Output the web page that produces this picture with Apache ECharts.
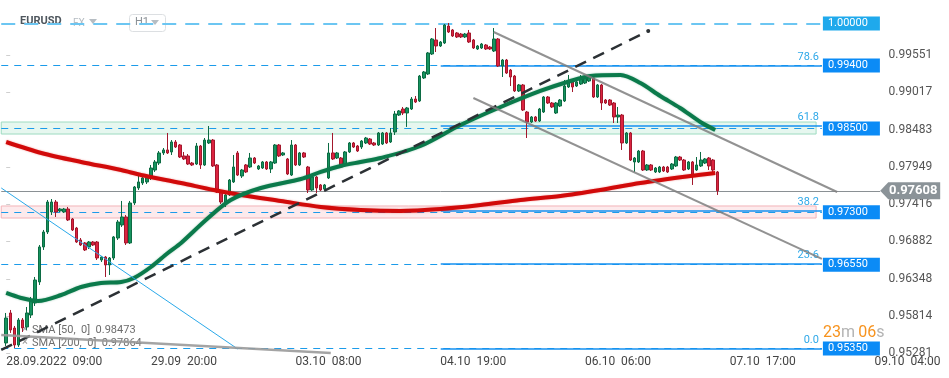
<!DOCTYPE html>
<html>
<head>
<meta charset="utf-8">
<title>EURUSD H1</title>
<script src="https://cdn.jsdelivr.net/npm/echarts@6/dist/echarts.min.js"></script>
<style>
html, body { margin: 0; padding: 0; background: #fff; }
#chart { width: 949px; height: 378px; }
</style>
</head>
<body>
<div id="chart"></div>
<script>
// hourly candles [open, close, low, high], first one is 28.09.2022 09:00
var candles = [
  [0.95430,0.95787,0.95387,0.95859],[0.95859,0.95616,0.95573,0.95902],[0.95644,0.95401,0.95358,0.95673],
  [0.95401,0.95759,0.95373,0.95787],[0.95759,0.95644,0.95587,0.95787],[0.95659,0.95859,0.95616,0.95945],
  [0.95830,0.96045,0.95787,0.96088],[0.96002,0.96331,0.95959,0.96374],[0.96303,0.96804,0.96260,0.96832],
  [0.96804,0.97018,0.96761,0.97047],[0.97018,0.97447,0.96989,0.97476],[0.97304,0.97447,0.97261,0.97490],
  [0.97447,0.97304,0.97233,0.97476],[0.97319,0.97347,0.97304,0.97362],[0.97304,0.97347,0.97290,0.97362],
  [0.97347,0.97190,0.97175,0.97376],[0.97204,0.97047,0.97032,0.97218],[0.97075,0.96875,0.96861,0.97090],
  [0.96904,0.96832,0.96818,0.96932],[0.96861,0.96761,0.96746,0.96875],[0.96804,0.96875,0.96775,0.96889],
  [0.96875,0.96832,0.96818,0.96889],[0.96875,0.96646,0.96617,0.96889],[0.96617,0.96660,0.96589,0.96675],
  [0.96660,0.96546,0.96374,0.96675],[0.96546,0.96646,0.96403,0.96660],[0.96646,0.96947,0.96617,0.96961],
  [0.96932,0.97161,0.96904,0.97190],[0.97118,0.97233,0.97090,0.97462],[0.97233,0.96861,0.96832,0.97261],
  [0.96861,0.97433,0.96846,0.97462],[0.97433,0.97662,0.97404,0.97676],[0.97648,0.97734,0.97619,0.97834],
  [0.97719,0.97791,0.97691,0.97819],[0.97734,0.97791,0.97705,0.97834],[0.97791,0.97934,0.97762,0.97977],
  [0.97905,0.98020,0.97877,0.98048],[0.98005,0.98149,0.97977,0.98177],[0.98149,0.98192,0.98120,0.98220],
  [0.98192,0.98149,0.98134,0.98435],[0.98163,0.98306,0.98120,0.98334],[0.98306,0.98234,0.98220,0.98334],
  [0.98263,0.98091,0.98077,0.98277],[0.98106,0.98063,0.98048,0.98163],[0.98106,0.97991,0.97977,0.98134],
  [0.98005,0.97977,0.97963,0.98020],[0.97991,0.98249,0.97977,0.98292],[0.98249,0.97977,0.97920,0.98263],
  [0.97977,0.98334,0.97963,0.98363],[0.98292,0.98334,0.98277,0.98535],[0.98334,0.97963,0.97948,0.98349],
  [0.97977,0.97590,0.97576,0.97991],[0.97590,0.97447,0.97419,0.97605],[0.97447,0.97548,0.97376,0.97562],
  [0.97548,0.97762,0.97533,0.97776],[0.97734,0.97948,0.97719,0.98120],[0.98149,0.97833,0.97819,0.98177],
  [0.97819,0.97905,0.97791,0.97920],[0.97977,0.97877,0.97862,0.97991],[0.97948,0.98077,0.97934,0.98149],
  [0.98077,0.98005,0.97991,0.98091],[0.97920,0.97963,0.97905,0.97977],[0.97934,0.98020,0.97920,0.98034],
  [0.98020,0.97920,0.97905,0.98034],[0.97920,0.98020,0.97862,0.98034],[0.98005,0.98263,0.97991,0.98277],
  [0.98263,0.98106,0.98091,0.98277],[0.98120,0.98149,0.98106,0.98163],[0.98063,0.97848,0.97833,0.98077],
  [0.97833,0.98263,0.97819,0.98334],[0.98263,0.97977,0.97963,0.98277],[0.97977,0.98149,0.97963,0.98163],
  [0.98149,0.98091,0.98077,0.98163],[0.97948,0.97619,0.97576,0.97963],[0.97619,0.97805,0.97605,0.97819],
  [0.97805,0.97648,0.97576,0.97819],[0.97691,0.97619,0.97605,0.97705],[0.97633,0.97691,0.97619,0.97705],
  [0.97791,0.98149,0.97776,0.98292],[0.98149,0.98063,0.98048,0.98435],[0.98077,0.98149,0.98063,0.98163],
  [0.98077,0.97948,0.97934,0.98091],[0.97977,0.98163,0.97963,0.98177],[0.98163,0.98292,0.98149,0.98306],
  [0.98292,0.98234,0.98220,0.98306],[0.98249,0.98177,0.98163,0.98263],[0.98234,0.98320,0.98206,0.98334],
  [0.98292,0.98363,0.98277,0.98378],[0.98349,0.98277,0.98263,0.98363],[0.98292,0.98263,0.98249,0.98306],
  [0.98263,0.98435,0.98249,0.98449],[0.98277,0.98435,0.98263,0.98449],[0.98435,0.98292,0.98277,0.98449],
  [0.98306,0.98435,0.98292,0.98506],[0.98449,0.98707,0.98406,0.98750],[0.98692,0.98750,0.98678,0.98764],
  [0.98778,0.98721,0.98692,0.98807],[0.98721,0.98793,0.98521,0.98807],[0.98778,0.98921,0.98764,0.98950],
  [0.98921,0.98878,0.98864,0.98964],[0.98893,0.99250,0.98878,0.99265],[0.99222,0.99308,0.99208,0.99322],
  [0.99279,0.99580,0.99265,0.99594],[0.99565,0.99780,0.99551,0.99794],[0.99766,0.99680,0.99594,0.99937],
  [0.99680,0.99737,0.99665,0.99751],[0.99723,0.99980,0.99708,0.99995],[0.99966,0.99880,0.99866,1.00009],
  [0.99909,0.99823,0.99809,0.99923],[0.99866,0.99809,0.99794,0.99880],[0.99851,0.99809,0.99794,0.99866],
  [0.99809,0.99851,0.99794,0.99866],[0.99866,0.99737,0.99723,0.99909],[0.99766,0.99651,0.99637,0.99780],
  [0.99637,0.99680,0.99623,0.99694],[0.99651,0.99708,0.99637,0.99723],[0.99694,0.99637,0.99623,0.99708],
  [0.99665,0.99637,0.99623,0.99680],[0.99608,0.99780,0.99594,0.99937],[0.99780,0.99394,0.99379,0.99794],
  [0.99394,0.99479,0.99236,0.99494],[0.99479,0.99293,0.99279,0.99494],[0.99336,0.99236,0.99107,0.99351],
  [0.99250,0.99036,0.99021,0.99265],[0.99036,0.99122,0.99021,0.99136],[0.99122,0.98764,0.98750,0.99136],
  [0.98735,0.98592,0.98363,0.98750],[0.98592,0.98664,0.98578,0.98678],[0.98664,0.98606,0.98592,0.98678],
  [0.98606,0.98778,0.98592,0.98793],[0.98735,0.98950,0.98721,0.98964],[0.98950,0.98864,0.98850,0.98964],
  [0.98864,0.98807,0.98793,0.98878],[0.98721,0.98864,0.98707,0.98878],[0.98821,0.98907,0.98807,0.98921],
  [0.98893,0.99107,0.98878,0.99193],[0.99093,0.99165,0.99079,0.99265],[0.99165,0.99093,0.99021,0.99179],
  [0.99107,0.99165,0.99093,0.99179],[0.99136,0.99222,0.99122,0.99265],[0.99150,0.99222,0.99136,0.99236],
  [0.99179,0.99236,0.99165,0.99265],[0.99222,0.98950,0.98936,0.99236],[0.98950,0.99122,0.98936,0.99136],
  [0.99122,0.98864,0.98764,0.99136],[0.98907,0.98864,0.98850,0.98921],[0.98907,0.98835,0.98821,0.98921],
  [0.98864,0.98664,0.98578,0.98878],[0.98664,0.98692,0.98578,0.98807],[0.98692,0.98292,0.98192,0.98707],
  [0.98292,0.98435,0.98277,0.98449],[0.98435,0.98048,0.98034,0.98449],[0.98020,0.98077,0.97877,0.98091],
  [0.98020,0.98177,0.98005,0.98192],[0.98177,0.97905,0.97891,0.98192],[0.97905,0.97977,0.97891,0.97991],
  [0.97977,0.97905,0.97891,0.97991],[0.97877,0.97934,0.97862,0.97948],[0.97877,0.97948,0.97862,0.97963],
  [0.97948,0.97891,0.97877,0.97963],[0.97948,0.97877,0.97862,0.97963],[0.97920,0.97991,0.97905,0.98005],
  [0.97963,0.98091,0.97948,0.98106],[0.98091,0.98048,0.98034,0.98106],[0.98048,0.97905,0.97891,0.98063],
  [0.97920,0.98020,0.97905,0.98034],[0.98020,0.97833,0.97691,0.98034],[0.97905,0.97977,0.97891,0.98091],
  [0.97963,0.98048,0.97948,0.98163],[0.98005,0.98063,0.97991,0.98077],[0.98077,0.97963,0.97905,0.98091],
  [0.98048,0.97905,0.97862,0.98063],[0.97877,0.97608,0.97548,0.97891]
];

// moving averages, [candle index, price]
var sma50 = [[0,0.96145],[3.6,0.96074],[7.7,0.96031],[13.3,0.96116],[18.1,0.96231],[22.9,0.96288],
  [27.8,0.96303],[30.9,0.96360],[35,0.96517],[39.1,0.96718],[42.3,0.96861],[48.3,0.97190],[54.3,0.97476],
  [61.6,0.97648],[71.3,0.97776],[76.1,0.97877],[80.9,0.97963],[85.7,0.98020],[90.6,0.98077],[100.2,0.98249],
  [109.9,0.98549],[119.6,0.98807],[129.2,0.99036],[136.5,0.99179],[141.3,0.99250],[148.6,0.99265],
  [153.4,0.99150],[158.2,0.98964],[163,0.98793],[167.9,0.98592],[171.5,0.98478]];
var sma200 = [[0,0.98306],[8.5,0.98149],[18.1,0.98020],[27.8,0.97905],[32.6,0.97834],[42.3,0.97719],
  [50.2,0.97619],[56.8,0.97548],[66.4,0.97462],[76.1,0.97376],[85.7,0.97333],[95.4,0.97319],[105.1,0.97347],
  [114.7,0.97404],[124.4,0.97476],[134.1,0.97533],[143.7,0.97619],[153.4,0.97719],[165.5,0.97819],[171.5,0.97862]];

var yTicks = [0.95281, 0.95814, 0.96348, 0.96882, 0.97416, 0.97949, 0.98483, 0.99017, 0.99551];
var xLabels = ['28.09.2022  09:00', '29.09  20:00', '03.10  08:00', '04.10  19:00', '06.10  06:00', '07.10  17:00', '09.10  04:00'];
var labelStep = 35;

var levels = [1.00000, 0.99400, 0.98500, 0.97300, 0.96550, 0.95350];
var fibLevels = [0.99400, 0.98534, 0.97318, 0.96566, 0.95350];
var fibNames = ['78.6', '61.8', '38.2', '23.6', '0.0'];
var lastPrice = 0.97608;
var greenZone = [0.98592, 0.98420];
var redZone = [0.97390, 0.97218];

// drawn objects, [candle index, price]
var trendUp = [[-1.2, 0.95330], [155.3, 0.99894]];
var channelTop = [[117.9, 0.99880], [201.0, 0.97590]];
var channelBottom = [[113.0, 0.98936], [197.3, 0.96632]];
var blueLine = [[-1.2, 0.97648], [56.0, 0.95344]];
var greyLine = [[-1.2, 0.95544], [78.5, 0.95287]];

var levelEnd = 197.3, zoneEnd = 195.9, fibStart = 105.1, axisEnd = 211.4;

var cats = [];
for (var k = -1; k < 212; k++) cats.push(String(k));

var lineMarks = [];
levels.forEach(function (lv, i) {
  var top = i === 0;
  var ls = { color: top ? '#6cc6f2' : '#1b9bea', width: top ? 2 : 1, type: top ? [14, 9] : [7, 6] };
  var lb = {
    show: true, position: 'end', distance: 1, formatter: lv.toFixed(5),
    backgroundColor: top ? '#1fa9ec' : '#0b8bf6', color: '#fff', fontSize: 11, fontFamily: 'Roboto',
    padding: [2, 5, 1, 5], width: 47, align: 'left'
  };
  lineMarks.push([{ coord: [-1.2, lv], lineStyle: ls, label: lb }, { coord: [levelEnd, lv], lineStyle: ls, label: lb }]);
});
fibLevels.forEach(function (lv, i) {
  var ls = { color: '#1591f0', width: 1.5, type: 'solid' };
  var lb = { show: true, position: 'insideEndTop', distance: 3, formatter: fibNames[i], color: '#2ea8e8', fontSize: 11, fontFamily: 'Roboto' };
  lineMarks.push([{ coord: [fibStart, lv], lineStyle: ls, label: lb }, { coord: [levelEnd, lv], lineStyle: ls, label: lb }]);
});
var lastStyle = { color: '#8a9094', width: 1, type: 'solid' };
lineMarks.push([{ coord: [-1.2, lastPrice], lineStyle: lastStyle, label: { show: false } },
  { coord: [axisEnd, lastPrice], lineStyle: lastStyle, label: { show: false } }]);

function trend(data, color, width, type, op) {
  return {
    type: 'line', xAxisIndex: 1, data: data, showSymbol: false, silent: true, z: 4,
    lineStyle: { color: color, width: width, type: type, opacity: op }
  };
}

var blackTrend = trend(trendUp, '#2c3135', 2.5, [12, 8], 1);
blackTrend.data = [{ value: trendUp[0], symbol: 'none' }, { value: trendUp[1], symbol: 'circle', symbolSize: 4 }];
blackTrend.showSymbol = true;
blackTrend.itemStyle = { color: '#2c3135' };

var chart = echarts.init(document.getElementById('chart'));
chart.setOption({
  animation: false,
  backgroundColor: '#fff',
  grid: { left: -1.2, right: 68.4, top: 0, bottom: 24 },
  xAxis: [{
    type: 'category', data: cats, boundaryGap: true,
    axisLine: { show: false }, axisTick: { show: false }, splitLine: { show: false },
    axisLabel: {
      interval: function (i, v) { return +v >= 0 && +v % labelStep === 0; },
      formatter: function (v) { return xLabels[+v / labelStep]; },
      align: 'left', color: '#444', fontSize: 12, fontFamily: 'Roboto', margin: 2
    }
  }, {
    type: 'value', min: -1.5, max: 211.5, show: false
  }],
  yAxis: {
    type: 'value', position: 'right', min: 0.95272, max: 1.00338,
    splitLine: { show: false }, axisLine: { show: false },
    axisTick: { show: true, length: 4, customValues: yTicks, lineStyle: { color: '#cfcfcf' } },
    axisLabel: {
      customValues: yTicks, formatter: function (v) { return v.toFixed(5); },
      color: '#555', fontSize: 12, fontFamily: 'Roboto', margin: 8
    }
  },
  graphic: [
    { type: 'text', left: 20, top: 16, style: { text: 'EURUSD', fill: '#4f575e', font: 'bold 11px Roboto' } },
    { type: 'text', left: 73, top: 18, style: { text: 'FX', fill: '#b6bdc3', font: '10px Roboto' } },
    { type: 'polygon', shape: { points: [[89, 19], [97, 19], [93, 24]] }, style: { fill: '#b6bdc3' } },
    { type: 'rect', shape: { x: 129.5, y: 14.5, width: 36, height: 17, r: 3 }, style: { fill: 'none', stroke: '#dcdfe2' } },
    { type: 'text', left: 135, top: 17, style: { text: 'H1', fill: '#8a9096', font: '11px Roboto' } },
    { type: 'polygon', shape: { points: [[151, 20], [159, 20], [155, 25]] }, style: { fill: '#b6bdc3' } },
    { type: 'text', left: 22, top: 324, style: { text: '×', fill: '#9a9a9a', font: '11px Roboto' } },
    { type: 'text', left: 32, top: 325, style: { text: 'SMA [50,  0]  0.98473', fill: '#6d6d6d', font: '11px Roboto' } },
    { type: 'text', left: 22, top: 337, style: { text: '×', fill: '#9a9a9a', font: '11px Roboto' } },
    { type: 'text', left: 32, top: 338, style: { text: 'SMA [200,  0]  0.97864', fill: '#6d6d6d', font: '11px Roboto' } },
    {
      type: 'text', left: 823, top: 325,
      style: {
        text: '{o|23}{g|m} {o|06}{g|s}',
        rich: { o: { fill: '#f7931e', font: '16px Roboto' }, g: { fill: '#b3b3b3', font: '16px Roboto' } }
      }
    }
  ],
  series: [
    {
      type: 'line', xAxisIndex: 1, data: [], silent: true, z: 1,
      markArea: {
        silent: true, z: 1,
        data: [
          [{ coord: [-1.2, greenZone[0]], itemStyle: { color: '#e6f7ef', borderColor: '#9edcc1', borderWidth: 1 } }, { coord: [zoneEnd, greenZone[1]] }],
          [{ coord: [-1.2, redZone[0]], itemStyle: { color: '#fdeaec', borderColor: '#f3b4b9', borderWidth: 1 } }, { coord: [zoneEnd, redZone[1]] }]
        ]
      },
      markLine: { silent: true, symbol: 'none', z: 1, data: lineMarks },
      markPoint: {
        silent: true, z: 8,
        data: [{
          coord: [axisEnd, lastPrice], symbol: 'path://M0,8L7,0L52,0L52,16L7,16Z',
          symbolSize: [60, 17], symbolOffset: [30, 0], itemStyle: { color: '#8b9398' },
          label: { show: true, formatter: lastPrice.toFixed(5), position: 'inside', offset: [3, 0], color: '#fff', fontWeight: 'bold', fontSize: 13, fontFamily: 'Roboto' }
        }]
      }
    },
    {
      type: 'candlestick', xAxisIndex: 0, data: ['-'].concat(candles), barWidth: 3, z: 2, silent: true,
      itemStyle: { color: '#16945f', color0: '#dc2340', borderColor: '#0c6b43', borderColor0: '#a3182c', borderWidth: 1 }
    },
    {
      type: 'line', xAxisIndex: 1, data: sma200, smooth: 0.3, showSymbol: false, silent: true, z: 3,
      lineStyle: { color: '#d10a0a', width: 4, shadowBlur: 2, shadowColor: 'rgba(220,0,0,0.4)' }
    },
    {
      type: 'line', xAxisIndex: 1, data: sma50, smooth: 0.3, showSymbol: false, silent: true, z: 3,
      lineStyle: { color: '#0b7a4b', width: 4, shadowBlur: 2, shadowColor: 'rgba(0,120,70,0.4)' }
    },
    blackTrend,
    trend(channelTop, '#7f7f7f', 2, 'solid', 0.85),
    trend(channelBottom, '#7f7f7f', 2, 'solid', 0.85),
    trend(blueLine, '#2aa9ea', 1, 'solid', 1),
    trend(greyLine, '#9a9a9a', 2.5, 'solid', 0.9)
  ]
});
</script>
</body>
</html>
